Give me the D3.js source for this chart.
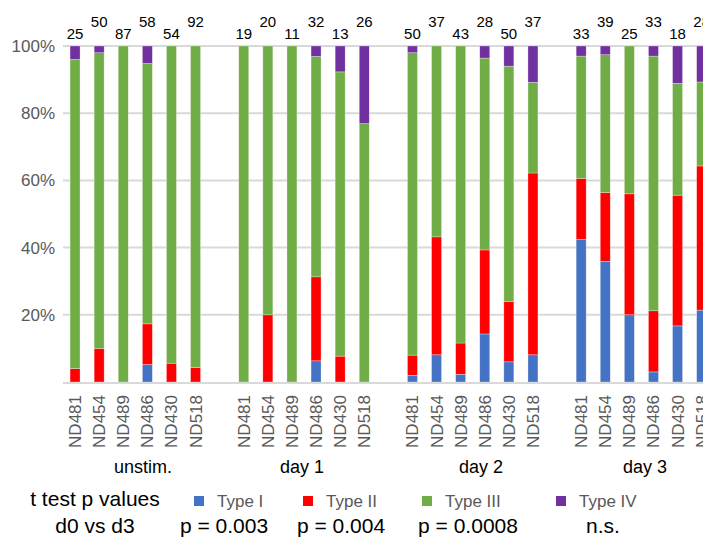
<!DOCTYPE html>
<html>
<head>
<meta charset="utf-8">
<script src="https://cdn.jsdelivr.net/npm/d3@7"></script>
<style>
  html, body { margin: 0; padding: 0; background: #fff; overflow: hidden; }
  svg { display: block; font-family: "Liberation Sans", Arial, Helvetica, sans-serif; }
</style>
</head>
<body>
<svg id="chart" width="703" height="537"></svg>
<script>
// ---------- data ----------
const groups  = ["unstim.", "day 1", "day 2", "day 3"];
const samples = ["ND481", "ND454", "ND489", "ND486", "ND430", "ND518"];
const nCounts = [25, 50, 87, 58, 54, 92,
                 19, 20, 11, 32, 13, 26,
                 50, 37, 43, 28, 50, 37,
                 33, 39, 25, 33, 18, 28];
const seriesNames = ["Type I", "Type II", "Type III", "Type IV"];
const typeI   = [0, 0, 0, 5.2, 0, 0,
                 0, 0, 0, 6.3, 0, 0,
                 2.0, 8.1, 2.3, 14.3, 6.0, 8.1,
                 42.4, 35.9, 20.0, 3.0, 16.7, 21.4];
const typeII  = [4.0, 10.0, 0, 12.1, 5.6, 4.3,
                 0, 20.0, 0, 25.0, 7.7, 0,
                 6.0, 35.1, 9.3, 25.0, 18.0, 54.1,
                 18.2, 20.5, 36.0, 18.2, 38.9, 42.9];
const typeIII = [92.0, 88.0, 100, 77.5, 94.4, 95.7,
                 100, 80.0, 100, 65.6, 84.6, 76.9,
                 90.0, 56.8, 88.4, 57.1, 70.0, 27.0,
                 36.4, 41.0, 44.0, 75.8, 33.3, 25.0];
const typeIV  = [4.0, 2.0, 0, 5.2, 0, 0,
                 0, 0, 0, 3.1, 7.7, 23.1,
                 2.0, 0, 0, 3.6, 6.0, 10.8,
                 3.0, 2.6, 0, 3.0, 11.1, 10.7];
const yTicks = [20, 40, 60, 80, 100];
const pLabels = ["t test p values", "d0 vs d3", "p = 0.003", "p = 0.004", "p = 0.0008", "n.s."];

// ---------- layout ----------
const colors = ["#4472c4", "#ff0000", "#70ad47", "#7030a0"];
const svg = d3.select("#chart");
const plotLeft = 63, slotW = 24.1;

// build rows
const rows = [];
groups.forEach((g, gi) => samples.forEach((s, si) => {
  const i = gi * samples.length + si;
  rows.push({ key: g + "|" + s, group: g, sample: s, idx: si, n: nCounts[i],
    "Type I": typeI[i], "Type II": typeII[i], "Type III": typeIII[i], "Type IV": typeIV[i] });
}));

// domain with a blank slot between groups
const domain = [];
groups.forEach((g, gi) => {
  samples.forEach(s => domain.push(g + "|" + s));
  if (gi < groups.length - 1) domain.push("gap" + gi);
});

const x = d3.scaleBand().domain(domain)
  .range([plotLeft, plotLeft + domain.length * slotW])
  .paddingInner(0.585).paddingOuter(0.2925);
const y = d3.scaleLinear().domain([0, 100]).range([382, 46]);

// gridlines
svg.append("g").selectAll("line").data(yTicks).join("line")
  .attr("x1", plotLeft).attr("x2", 760)
  .attr("y1", d => y(d)).attr("y2", d => y(d))
  .attr("stroke", "#d9d9d9").attr("stroke-width", 2);

// y labels
svg.append("g").selectAll("text").data(yTicks).join("text")
  .attr("x", 55).attr("y", d => y(d)).attr("dy", "0.35em")
  .attr("text-anchor", "end").attr("fill", "#595959")
  .attr("font-size", 17).text(d => d + "%");

// stacked bars
const stack = d3.stack().keys(seriesNames);
const stacked = stack(rows);
svg.append("g").selectAll("g").data(stacked).join("g")
  .attr("fill", (d, i) => colors[i])
  .selectAll("rect").data(d => d.filter(p => p[1] - p[0] > 0)).join("rect")
  .attr("x", d => x(d.data.key))
  .attr("width", x.bandwidth())
  .attr("y", d => y(d[1]))
  .attr("height", d => y(d[0]) - y(d[1]))
  .attr("stroke", "#ffffff").attr("stroke-opacity", 0.5).attr("stroke-width", 0.6);

// x axis line
svg.append("line").attr("x1", plotLeft).attr("x2", 760)
  .attr("y1", y(0) + 1).attr("y2", y(0) + 1)
  .attr("stroke", "#d9d9d9").attr("stroke-width", 2);

// n labels on top (staggered)
svg.append("g").selectAll("text").data(rows).join("text")
  .attr("x", d => x(d.key) + x.bandwidth() / 2)
  .attr("y", d => d.idx % 2 === 0 ? 39 : 27)
  .attr("text-anchor", "middle").attr("font-size", 15).attr("fill", "#000")
  .text(d => d.n);

// sample labels rotated
svg.append("g").selectAll("text").data(rows).join("text")
  .attr("transform", d => `translate(${x(d.key) + x.bandwidth() / 2},395) rotate(-90)`)
  .attr("dy", "0.35em").attr("text-anchor", "end")
  .attr("fill", "#595959").attr("font-size", 17)
  .text(d => d.sample);

// group labels
const groupX = [143, 302, 481, 645];
svg.append("g").selectAll("text").data(groups).join("text")
  .attr("x", (d, i) => groupX[i]).attr("y", 473)
  .attr("text-anchor", "middle").attr("font-size", 18).attr("fill", "#000")
  .text(d => d);

// legend
const legX = [194, 303, 422, 556];
const leg = svg.append("g").selectAll("g").data(seriesNames).join("g")
  .attr("transform", (d, i) => `translate(${legX[i]},496)`);
leg.append("rect").attr("width", 10).attr("height", 10).attr("fill", (d, i) => colors[i]);
leg.append("text").attr("x", 23).attr("y", 10.5).attr("font-size", 17)
  .attr("fill", "#595959").text(d => d);

// p-value text
const pPos = [[95, 506], [95, 533], [224, 533], [341, 533], [468, 533], [603, 533]];
svg.append("g").selectAll("text").data(pLabels).join("text")
  .attr("x", (d, i) => pPos[i][0]).attr("y", (d, i) => pPos[i][1])
  .attr("text-anchor", "middle").attr("font-size", 21).attr("fill", "#000")
  .text(d => d);
</script>
</body>
</html>
